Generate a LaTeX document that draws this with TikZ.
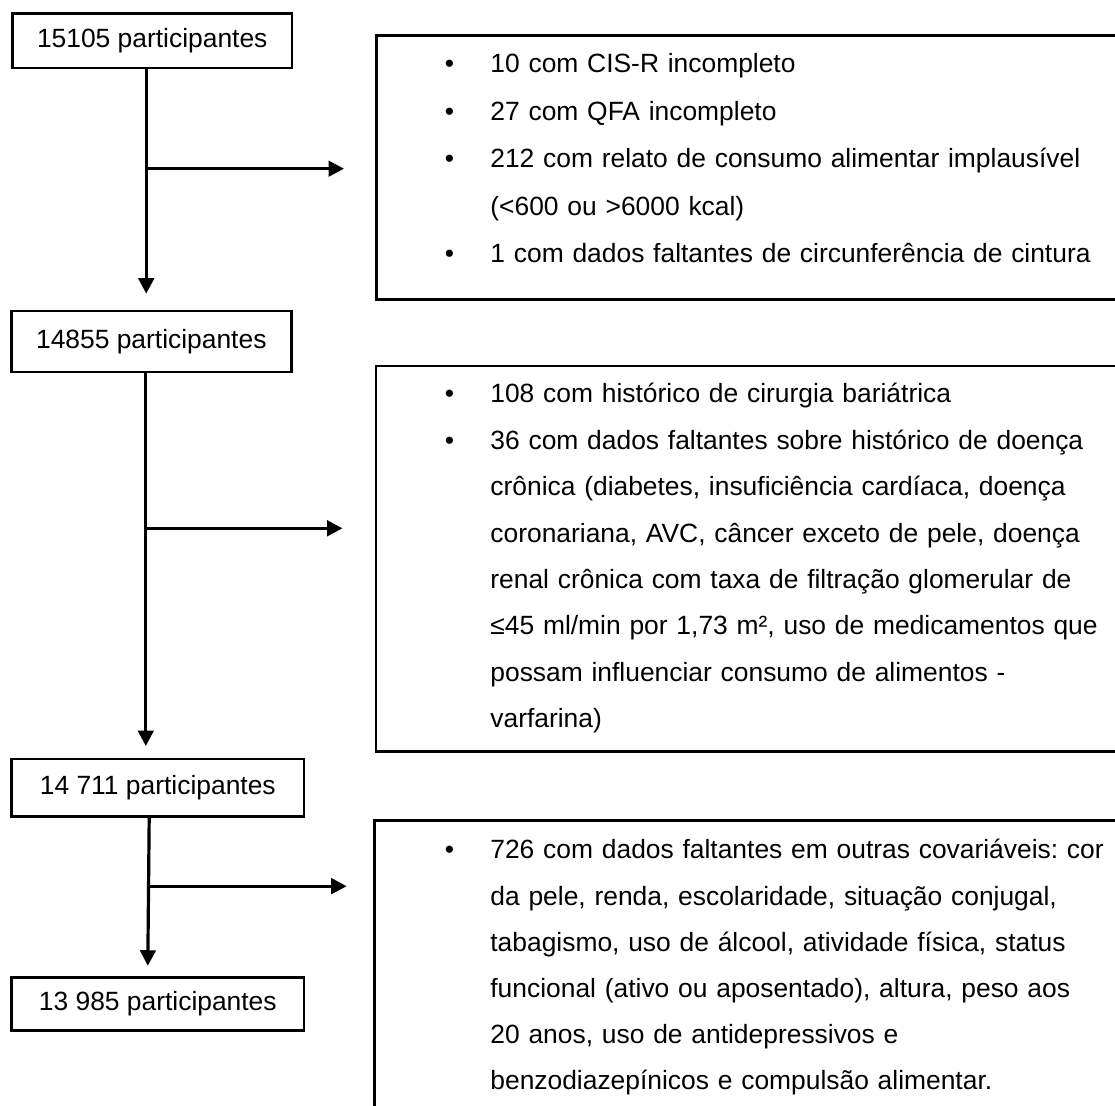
\documentclass[tikz,border=0pt]{standalone}
\usepackage{fontspec}
\setmainfont{Liberation Sans}
\frenchspacing
\usepackage[]{tikz}
\usetikzlibrary{positioning,calc,arrows.meta}
\tikzset{main node/.style={rectangle,draw,line width=1.3pt,inner sep=0pt,font=\fontsize{13.2pt}{15pt}\selectfont}}
\tikzset{excl node/.style={rectangle,draw,line width=1.35pt,inner sep=0pt,minimum width=377.5pt,anchor=north west}}
\tikzset{list node/.style={inner sep=0pt,anchor=base west,text width=320pt,align=left,font=\fontsize{13.2pt}{#1}\selectfont}}
\tikzset{flow/.style={line width=1.6pt,-{Triangle[length=7.75pt,width=7.75pt]}}}
\newcommand{\bul}{\leavevmode\llap{\textbullet\hspace{18.2pt}}}

\begin{document}
\begin{tikzpicture}[x=0.5pt,y=-0.5pt]
      \useasboundingbox (0,0) rectangle (1115,1106);
      \clip (0,0) rectangle (1115,1106);
      \node[main node,minimum width=139.75pt,minimum height=27.1pt] (1) at (152.25,40.9) {15105 participantes};
      \node[main node,minimum width=140pt,minimum height=30.5pt] (2) at (151.3,341.5) {14855 participantes};
      \node[main node,minimum width=146.15pt,minimum height=28.65pt] (3) at (157.8,787.7) {14 711 participantes};
      \node[main node,minimum width=146.15pt,minimum height=26.65pt] (4) at (157.8,1004) {13 985 participantes};
      \node[excl node,minimum height=131.9pt] (5) at (375,34.5) {};
      \node[excl node,minimum height=192.65pt] (6) at (374.5,364.7) {};
      \node[excl node,minimum height=150pt] (7) at (373,819.5) {};
      \node[list node=23.75pt] (l5) at (490,73) {\bul 10 com CIS-R incompleto\\
        \bul 27 com QFA incompleto\\
        \bul 212 com relato de consumo alimentar implausível\\
        (<600 ou >6000 kcal)\\
        \bul 1 com dados faltantes de circunferência de cintura};
      \node[list node=23.2pt] (l6) at (490,403) {\bul 108 com histórico de cirurgia bariátrica\\
        \bul 36 com dados faltantes sobre histórico de doença\\
        crônica (diabetes, insuficiência cardíaca, doença\\
        coronariana, AVC, câncer exceto de pele, doença\\
        renal crônica com taxa de filtração glomerular de\\
        ≤45 ml/min por 1,73 m², uso de medicamentos que\\
        possam influenciar consumo de alimentos -\\
        varfarina)};
      \node[list node=23.1pt] (l7) at (490,859) {\bul 726 com dados faltantes em outras covariáveis: cor\\
        da pele, renda, escolaridade, situação conjugal,\\
        tabagismo, uso de álcool, atividade física, status\\
        funcional (ativo ou aposentado), altura, peso aos\\
        20 anos, uso de antidepressivos e\\
        benzodiazepínicos e compulsão alimentar.};
      \coordinate (j1) at (146.2,168.7);
      \coordinate (j2) at (145.8,528.3);
      \coordinate (j3) at (148.5,886.2);
      \draw[flow,shorten >=8pt] ([xshift=-3pt]1.south) -- ([xshift=-3pt]1.south |- 2.north);
      \draw[flow,shorten >=5.85pt] ([xshift=-2.75pt]2.south) -- ([xshift=-2.75pt]2.south |- 3.north);
      \draw[flow,shorten >=5.15pt] ([xshift=-4.3pt]3.south) -- ([xshift=-5.05pt]4.north);
      \draw[flow,shorten >=15.5pt] (j1) -- (j1 -| 5.west);
      \draw[flow,shorten >=16pt] (j2) -- (j2 -| 6.west);
      \draw[flow,shorten >=13.15pt] (j3) -- (j3 -| 7.west);
    \end{tikzpicture}
\end{document}
